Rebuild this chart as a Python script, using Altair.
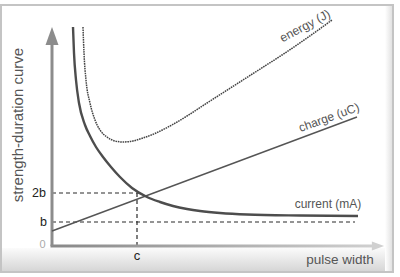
import altair as alt
import pandas as pd

# ---- values (diagram units: t = pulse width, v = strength) ----
current_t = [21, 22, 24, 27, 33, 38, 44, 51, 59, 68, 80, 95, 108, 121, 135, 148, 168, 195, 248, 306]
current_v = [219, 193, 166, 143, 121, 110, 99, 89, 79, 69, 58, 49, 44, 40, 37, 35, 33, 31.5, 30.5, 30]

energy_t = [31, 32, 34, 38, 43, 48, 55, 63, 71, 81, 91, 104, 118, 135, 155, 180, 205, 230, 255, 280]
energy_v = [219, 193, 166, 143, 126, 116, 109, 105, 104, 105, 108, 113, 120, 130, 143, 159, 175, 191, 208, 226]

charge_t = [0, 305]
charge_v = [15, 129]

rheobase = 24          # b
double_rheobase = 53   # 2b
chronaxie = 85         # c

label_text = ["0", "b", "2b", "c", "pulse width", "current (mA)", "charge (uC)",
              "energy (J)", "strength-duration curve"]
label_t = [-9.5, -8.5, -13, 85, 288, 276, 277, 253, -34]
label_v = [1, 24, 53, -10, -14, 42, 128.5, 220, 121]
label_angle = [0, 0, 0, 0, 0, 0, 340, 332, 270]
label_size = [11, 12.5, 12.5, 13, 13.5, 12, 12, 12.3, 15]
label_color = ["#aaaaaa", "#222222", "#222222", "#222222", "#555555", "#555555",
               "#555555", "#555555", "#555555"]

W, H = 400, 277
xs = alt.Scale(domain=[-52, 348], nice=False, zero=False)
ys = alt.Scale(domain=[-31, 246], nice=False, zero=False)

def X(f):
    return alt.X(f, type="quantitative", scale=xs, axis=None)

def Y(f):
    return alt.Y(f, type="quantitative", scale=ys, axis=None)

# frame and shaded bottom band
frame = pd.DataFrame({"t": [-51], "t2": [341], "v": [-26], "v2": [241]})
frame_mark = alt.Chart(frame).mark_rect(fill="white", stroke="#c4c4c4", strokeWidth=2).encode(
    x=X("t"), x2="t2", y=Y("v"), y2="v2")

band = pd.DataFrame({"t": [-50], "t2": [340], "v": [-25], "v2": [-2]})
band_mark = alt.Chart(band).mark_rect(
    fill=alt.Gradient(gradient="linear",
                      stops=[alt.GradientStop(color="#fbfbfb", offset=0),
                             alt.GradientStop(color="#d6d6d6", offset=1)],
                      x1=0, x2=0, y1=0, y2=1)).encode(
    x=X("t"), x2="t2", y=Y("v2"), y2="v")

side = pd.DataFrame({"t": [333], "t2": [340], "v": [-25], "v2": [240]})
side_mark = alt.Chart(side).mark_rect(
    fill=alt.Gradient(gradient="linear",
                      stops=[alt.GradientStop(color="#ffffff", offset=0),
                             alt.GradientStop(color="#e2e2e2", offset=1)],
                      x1=0, x2=1, y1=0, y2=0)).encode(
    x=X("t"), x2="t2", y=Y("v"), y2="v2")

# axes
xaxis = pd.DataFrame({"t": [-1.5], "t2": [326], "v": [-1.5], "v2": [1.5]})
xaxis_mark = alt.Chart(xaxis).mark_rect(
    fill=alt.Gradient(gradient="linear",
                      stops=[alt.GradientStop(color="#888888", offset=0),
                             alt.GradientStop(color="#d0d0d0", offset=1)],
                      x1=0, x2=1, y1=0, y2=0)).encode(
    x=X("t"), x2="t2", y=Y("v"), y2="v2")

yaxis = pd.DataFrame({"t": [0], "v": [0], "v2": [204]})
yaxis_mark = alt.Chart(yaxis).mark_rule(color="#8c8c8c", strokeWidth=3).encode(
    x=X("t"), y=Y("v"), y2="v2")

yarrow = pd.DataFrame({"t": [0], "v": [210]})
yarrow_mark = alt.Chart(yarrow).mark_point(
    shape="M0,-1L-0.72,1L0.72,1Z", size=324, filled=True, color="#8c8c8c", opacity=1).encode(
    x=X("t"), y=Y("v"))

xarrow = pd.DataFrame({"t": [326], "v": [0]})
xarrow_mark = alt.Chart(xarrow).mark_point(
    shape="M1,0L-1,-0.75L-1,0.75Z", size=150, filled=True, color="#d0d0d0", opacity=1).encode(
    x=X("t"), y=Y("v"))

# dashed guides
guides = pd.DataFrame({
    "t": [0, 0, chronaxie],
    "t2": [90, 303, chronaxie],
    "v": [double_rheobase, rheobase, 0],
    "v2": [double_rheobase, rheobase, double_rheobase],
})
guides_mark = alt.Chart(guides).mark_rule(color="#2a2a2a", strokeWidth=1.2, strokeDash=[4, 3]).encode(
    x=X("t"), x2="t2", y=Y("v"), y2="v2")

# curves
cur = pd.DataFrame({"t": current_t, "v": current_v})
cur_mark = alt.Chart(cur).mark_line(color="#4d4d4d", strokeWidth=2.4, interpolate="monotone").encode(
    x=X("t"), y=Y("v"))

en = pd.DataFrame({"t": energy_t, "v": energy_v})
en_mark = alt.Chart(en).mark_line(color="#444444", strokeWidth=1.5, strokeDash=[1.6, 0.8],
                                  interpolate="monotone").encode(
    x=X("t"), y=Y("v"))

ch = pd.DataFrame({"t": charge_t, "v": charge_v})
ch_mark = alt.Chart(ch).mark_line(color="#555555", strokeWidth=1.4).encode(
    x=X("t"), y=Y("v"))

labels = pd.DataFrame({"text": label_text, "t": label_t, "v": label_v, "angle": label_angle,
                       "size": label_size, "color": label_color})
labels_mark = alt.Chart(labels).mark_text(font="Liberation Sans", baseline="middle",
                                          align="center").encode(
    x=X("t"), y=Y("v"), text="text:N",
    angle=alt.Angle("angle:Q", scale=None),
    size=alt.Size("size:Q", scale=None),
    color=alt.Color("color:N", scale=None))

chart = alt.layer(frame_mark, band_mark, side_mark, guides_mark, xaxis_mark, yaxis_mark,
                  yarrow_mark, xarrow_mark, ch_mark, en_mark, cur_mark, labels_mark).properties(
    width=W, height=H, padding=0, autosize=alt.AutoSizeParams(type="none"),
    background="white").configure_view(stroke=None)

chart.save("out.html", embed_options={"renderer": "svg", "actions": False})
